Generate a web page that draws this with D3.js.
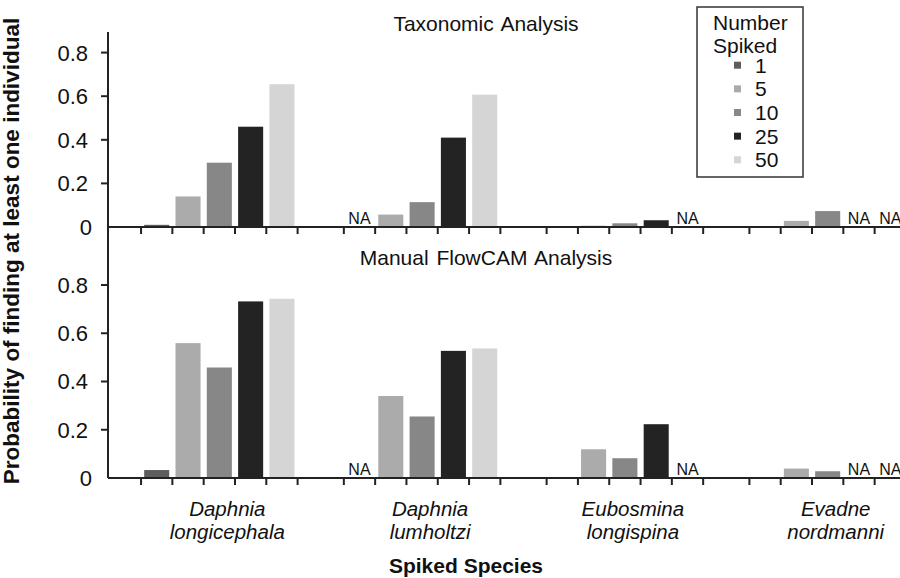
<!DOCTYPE html>
<html>
<head>
<meta charset="utf-8">
<script src="https://cdn.jsdelivr.net/npm/d3@7"></script>
<style>
  body { margin: 0; background: #fff; }
  text { font-family: "Liberation Sans", Arial, sans-serif; fill: #111; }
</style>
</head>
<body>
<div id="chart"></div>
<script>
const species = ["Daphnia longicephala", "Daphnia lumholtzi", "Eubosmina longispina", "Evadne nordmanni"];
const spiked = ["1", "5", "10", "25", "50"];
const panelTitles = ["Taxonomic Analysis", "Manual FlowCAM Analysis"];
// null = NA
const taxonomic = [
  [0.01, 0.14, 0.295, 0.46, 0.655],
  [null, 0.057, 0.114, 0.41, 0.607],
  [0, 0.006, 0.017, 0.031, null],
  [0, 0.028, 0.073, null, null]
];
const flowcam = [
  [0.033, 0.559, 0.458, 0.732, 0.743],
  [null, 0.34, 0.255, 0.527, 0.537],
  [0.003, 0.119, 0.082, 0.223, null],
  [0.003, 0.039, 0.028, null, null]
];
const yTicks = [0, 0.2, 0.4, 0.6, 0.8];
const colors = ["#5e5e5e", "#ababab", "#878787", "#232323", "#d5d5d5"];

const width = 900;
const height = 578;
const axisX = 108;

const svg = d3.select("#chart")
  .append("svg")
  .attr("width", width)
  .attr("height", height);

const x = d3.scaleBand()
  .domain(species)
  .range([axisX, 939])
  .paddingInner(0.228)
  .paddingOuter(0.163);

const xi = d3.scaleBand()
  .domain(spiked)
  .range([0, x.bandwidth()])
  .paddingInner(0.2)
  .paddingOuter(0.1);

const color = d3.scaleOrdinal().domain(spiked).range(colors);

const panels = [
  { title: panelTitles[0], values: taxonomic, top: 32, titleY: 31,
    y: d3.scaleLinear().domain([0, 0.8]).range([227, 52.6]) },
  { title: panelTitles[1], values: flowcam, top: 227, titleY: 265,
    y: d3.scaleLinear().domain([0, 0.8]).range([478, 285]) }
];

panels.forEach(p => {
  const g = svg.append("g");
  const y = p.y;

  species.forEach((sp, i) => {
    const rows = spiked.map((s, j) => ({ s, v: p.values[i][j] }));

    g.append("g")
      .selectAll("rect")
      .data(rows.filter(d => d.v !== null))
      .join("rect")
      .attr("x", d => x(sp) + xi(d.s))
      .attr("y", d => y(d.v))
      .attr("width", xi.bandwidth())
      .attr("height", d => y(0) - y(d.v))
      .attr("fill", d => color(d.s));

    g.append("g")
      .selectAll("text")
      .data(rows.filter(d => d.v === null))
      .join("text")
      .attr("x", d => x(sp) + xi(d.s) + xi.bandwidth() / 2)
      .attr("y", y(0) - 3)
      .attr("text-anchor", "middle")
      .attr("font-size", "16px")
      .text("NA");

    // tick marks between bars
    g.append("g")
      .selectAll("line")
      .data(d3.range(spiked.length + 1))
      .join("line")
      .attr("x1", k => x(sp) + k * xi.step())
      .attr("x2", k => x(sp) + k * xi.step())
      .attr("y1", y(0))
      .attr("y2", y(0) + 7)
      .attr("stroke", "#222")
      .attr("stroke-width", 2);
  });

  g.append("line")
    .attr("x1", axisX).attr("x2", width)
    .attr("y1", y(0)).attr("y2", y(0))
    .attr("stroke", "#222").attr("stroke-width", 2);

  g.append("line")
    .attr("x1", axisX).attr("x2", axisX)
    .attr("y1", p.top).attr("y2", y(0))
    .attr("stroke", "#222").attr("stroke-width", 2);

  g.append("g")
    .selectAll("line")
    .data(yTicks.filter(t => t > 0))
    .join("line")
    .attr("x1", axisX - 7).attr("x2", axisX)
    .attr("y1", d => y(d)).attr("y2", d => y(d))
    .attr("stroke", "#222").attr("stroke-width", 2);

  g.append("g")
    .selectAll("text")
    .data(yTicks)
    .join("text")
    .attr("x", d => d === 0 ? 92 : 88)
    .attr("y", d => y(d))
    .attr("dy", "0.36em")
    .attr("text-anchor", "end")
    .attr("font-size", "22px")
    .text(d => d === 0 ? "0" : d3.format(".1f")(d));

  g.append("text")
    .attr("x", 486)
    .attr("y", p.titleY)
    .attr("text-anchor", "middle")
    .attr("font-size", "21px")
    .attr("word-spacing", "2px")
    .text(p.title);
});

// species labels, two lines each
const labels = svg.append("g");
species.forEach(sp => {
  const words = sp.split(" ");
  const cx = x(sp) + x.bandwidth() / 2 + 8;
  const t = labels.append("text")
    .attr("y", 516)
    .attr("text-anchor", "middle")
    .attr("font-size", "20.5px")
    .attr("font-style", "italic");
  t.append("tspan").attr("x", cx).text(words[0]);
  t.append("tspan").attr("x", cx).attr("dy", 22.6).text(words[1]);
});

svg.append("text")
  .attr("x", 466)
  .attr("y", 573)
  .attr("text-anchor", "middle")
  .attr("font-size", "21px")
  .attr("font-weight", "bold")
  .text("Spiked Species");

svg.append("text")
  .attr("transform", "translate(19,251) rotate(-90)")
  .attr("text-anchor", "middle")
  .attr("font-size", "22.5px")
  .attr("font-weight", "bold")
  .text("Probability of finding at least one individual");

// legend
const legend = svg.append("g");
legend.append("rect")
  .attr("x", 697).attr("y", 7)
  .attr("width", 106).attr("height", 170)
  .attr("fill", "#fff")
  .attr("stroke", "#333")
  .attr("stroke-width", 1.5);

legend.append("text").attr("x", 713).attr("y", 29.5).attr("font-size", "21px").text("Number");
legend.append("text").attr("x", 713).attr("y", 52.7).attr("font-size", "21px").text("Spiked");

const ly = d3.scalePoint().domain(spiked).range([72.7, 167.3]);
legend.selectAll("rect.key")
  .data(spiked)
  .join("rect")
  .attr("class", "key")
  .attr("x", 734)
  .attr("y", d => ly(d) - 11)
  .attr("width", 7).attr("height", 7)
  .attr("fill", d => color(d));

legend.selectAll("text.key")
  .data(spiked)
  .join("text")
  .attr("class", "key")
  .attr("x", 755)
  .attr("y", d => ly(d))
  .attr("font-size", "21px")
  .text(d => d);
</script>
</body>
</html>
